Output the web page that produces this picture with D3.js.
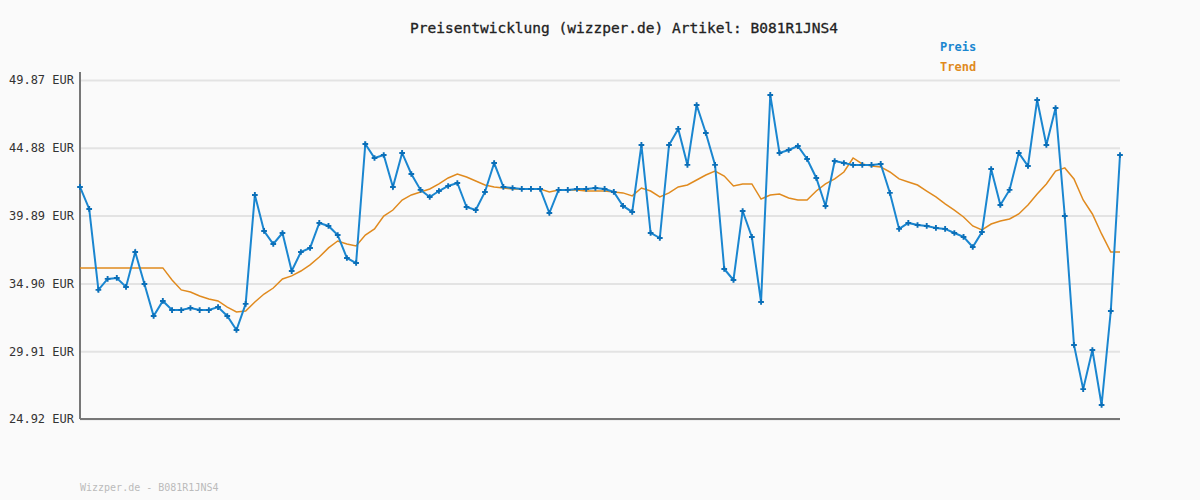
<!DOCTYPE html>
<html><head><meta charset="utf-8">
<script src="https://cdn.jsdelivr.net/npm/d3@7"></script>
<style>body{margin:0;background:#fafafa}text{font-family:"DejaVu Sans Mono",monospace}</style>
</head><body><div id="chart"></div>
<script>
const title = 'Preisentwicklung (wizzper.de) Artikel: B081R1JNS4';
const yTicks = [24.92, 29.91, 34.90, 39.89, 44.88, 49.87];
const preis = [42.00,40.38,34.42,35.23,35.30,34.64,37.21,34.86,32.50,33.61,
  32.94,32.94,33.09,32.94,32.94,33.16,32.50,31.47,33.39,41.41,
  38.76,37.80,38.61,35.81,37.21,37.51,39.35,39.13,38.46,36.77,
  36.40,45.16,44.13,44.35,42.00,44.50,42.95,41.78,41.26,41.70,
  42.07,42.29,40.52,40.30,41.63,43.76,42.00,41.92,41.85,41.85,
  41.85,40.08,41.78,41.78,41.85,41.85,41.92,41.85,41.63,40.60,
  40.16,45.09,38.61,38.24,45.09,46.27,43.62,48.03,45.97,43.62,
  35.96,35.15,40.23,38.32,33.53,48.77,44.50,44.72,45.01,44.06,
  42.66,40.60,43.91,43.76,43.62,43.62,43.62,43.69,41.56,38.91,
  39.35,39.20,39.13,38.98,38.91,38.61,38.32,37.58,38.68,43.32,
  40.67,41.78,44.50,43.54,48.40,45.09,47.81,39.86,30.37,27.12,
  30.00,25.95,32.87,44.35];
const trend = [36.04,36.04,36.04,36.04,36.04,36.04,36.04,36.04,36.04,36.04,
  35.15,34.42,34.27,33.97,33.75,33.61,33.16,32.80,32.87,33.53,
  34.12,34.56,35.23,35.45,35.81,36.26,36.84,37.51,38.02,37.80,
  37.65,38.46,38.91,39.86,40.30,41.04,41.41,41.63,41.85,42.22,
  42.66,42.95,42.73,42.44,42.14,42.00,41.92,41.85,41.85,41.85,
  41.85,41.63,41.78,41.78,41.78,41.70,41.70,41.70,41.63,41.56,
  41.34,41.92,41.70,41.26,41.56,42.00,42.14,42.51,42.88,43.17,
  42.80,42.07,42.22,42.22,41.11,41.41,41.48,41.19,41.04,41.04,
  41.70,42.22,42.59,43.10,44.13,43.69,43.54,43.47,43.10,42.59,
  42.36,42.14,41.70,41.26,40.75,40.30,39.79,39.13,38.83,39.27,
  39.49,39.64,40.01,40.67,41.48,42.22,43.17,43.40,42.59,41.04,
  40.01,38.54,37.21,37.21];

const W = 1200, H = 500;
const m = {left: 80, right: 80, top: 80, bottom: 81};
const svg = d3.select('#chart').append('svg').attr('width', W).attr('height', H);
svg.append('rect').attr('width', W).attr('height', H).attr('fill', '#fafafa');

const x = d3.scaleLinear().domain([0, preis.length - 1]).range([m.left, W - m.right]);
const y = d3.scaleLinear().domain([yTicks[0], yTicks[yTicks.length - 1]]).range([H - m.bottom, m.top]);

svg.append('g')
  .attr('transform', `translate(${m.left},0)`)
  .call(d3.axisLeft(y).tickValues(yTicks).tickSize(-(W - m.left - m.right)).tickFormat(d => d.toFixed(2) + ' EUR'))
  .call(g => g.select('.domain').remove())
  .call(g => g.selectAll('.tick line').attr('stroke', '#e3e3e3').attr('stroke-width', 2))
  .call(g => g.selectAll('.tick text').attr('x', -6).attr('fill', '#333').style('font-size', '12px'));

svg.append('line').attr('x1', m.left).attr('x2', m.left).attr('y1', m.top - 8).attr('y2', H - m.bottom)
  .attr('stroke', '#777').attr('stroke-width', 2);
svg.append('line').attr('x1', m.left).attr('x2', W - m.right).attr('y1', H - m.bottom).attr('y2', H - m.bottom)
  .attr('stroke', '#777').attr('stroke-width', 2);

const line = d3.line().x((d, i) => x(i)).y(d => y(d));
svg.append('path').datum(trend).attr('d', line).attr('fill', 'none').attr('stroke', '#e08a1e').attr('stroke-width', 1.5);
svg.append('path').datum(preis).attr('d', line).attr('fill', 'none').attr('stroke', '#1a86d0').attr('stroke-width', 2);
svg.selectAll('.pt').data(preis).enter().append('path')
  .attr('transform', (d, i) => `translate(${x(i)},${y(d)})`)
  .attr('d', d3.symbol(d3.symbolCross, 18))
  .attr('fill', '#0b6fb8');

svg.append('text').attr('x', 624).attr('y', 33).attr('text-anchor', 'middle')
  .style('font-size', '14.5px').attr('fill', '#222').attr('stroke', '#222').attr('stroke-width', 0.3).text(title);
svg.append('text').attr('x', 940).attr('y', 51).style('font-size', '12px').style('font-weight', 'bold')
  .attr('fill', '#1a86d0').text('Preis');
svg.append('text').attr('x', 940).attr('y', 71).style('font-size', '12px').style('font-weight', 'bold')
  .attr('fill', '#e08a1e').text('Trend');
svg.append('text').attr('x', 80).attr('y', 491).style('font-size', '10px')
  .attr('fill', '#bbb').text('Wizzper.de - B081R1JNS4');
</script></body></html>
